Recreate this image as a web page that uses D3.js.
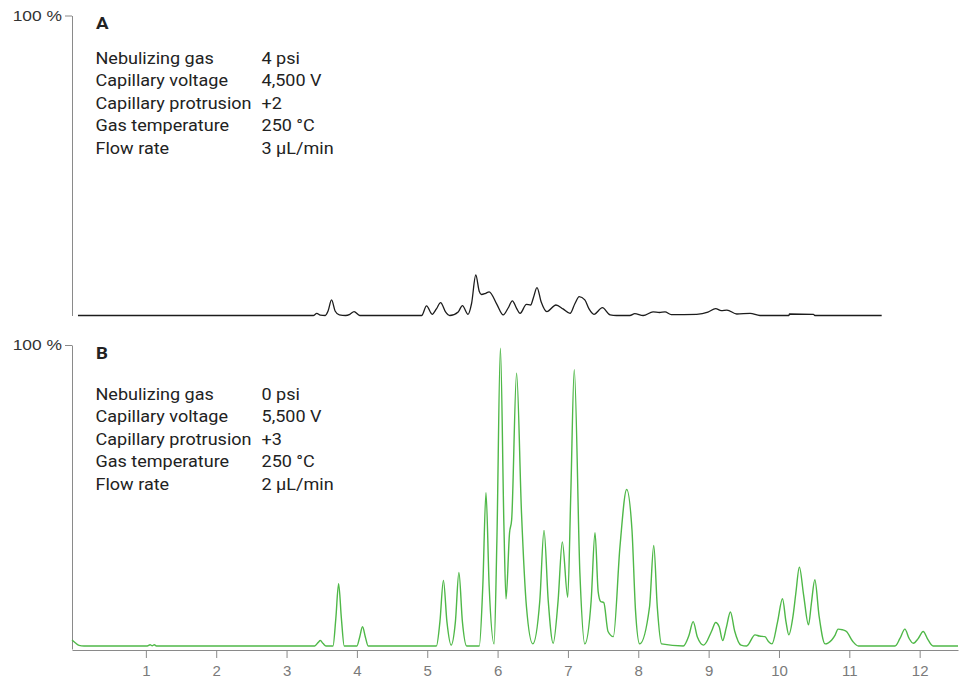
<!DOCTYPE html>
<html>
<head>
<meta charset="utf-8">
<script src="https://cdn.jsdelivr.net/npm/d3@7"></script>
<style>
  body { margin: 0; background: #fff; }
  svg { font-family: Roboto, "Noto Sans", sans-serif; }
  .axis path, .axis line { stroke: #8a8a8a; }
  .axis text { fill: #333; font-size: 14.5px; }
  .xaxis text { fill: #7a7a7a; font-size: 15px; }
  .info { fill: #222; font-size: 16.4px; }
  .title { fill: #222; font-size: 17px; font-weight: bold; }
</style>
</head>
<body>
<script>
// retention time (min) and relative intensity (%)

var traceA = [
  [0.035, 0], [3.38, 0], [3.43, 0.7], [3.48, 0.1], [3.55, 0], [3.59, 1.5], [3.64, 5.2],
  [3.69, 1.5], [3.75, 0.2], [3.84, 0], [3.90, 0.4], [3.96, 1.3], [4.04, 0], [4.92, 0],
  [4.99, 3.2], [5.07, 0.4], [5.13, 2.2], [5.19, 4.3], [5.26, 1.2], [5.32, 0], [5.44, 1.2],
  [5.50, 3.3], [5.58, 0.4], [5.63, 4], [5.69, 13.5], [5.74, 8], [5.77, 7], [5.83, 7.4],
  [5.88, 7.9], [5.99, 3.7], [6.08, 0.2], [6.15, 2.5], [6.21, 4.9], [6.27, 2.4], [6.32, 0.7],
  [6.41, 3.7], [6.47, 3.5], [6.51, 6], [6.56, 9.3], [6.62, 4.5], [6.70, 1.3], [6.83, 3.5],
  [6.93, 2.2], [7.03, 0.7], [7.10, 4], [7.16, 6.3], [7.24, 5.2], [7.30, 2.2], [7.37, 0.4],
  [7.49, 2.6], [7.60, 0.2], [7.69, 0], [7.88, 0], [7.95, 0.6], [8.07, 0], [8.21, 1.2],
  [8.30, 1.0], [8.38, 1.2], [8.47, 0.3], [8.83, 0.4], [8.99, 1.1], [9.10, 2.3], [9.18, 1.6],
  [9.26, 1.8], [9.40, 0.5], [9.59, 0.7], [9.73, 0], [10.14, 0], [10.15, 0.5], [10.49, 0.4],
  [10.51, 0], [11.46, 0]
];

var traceB = [
  [-0.05, 2.0], [0.0, 1.0], [0.05, 0.2], [0.12, 0], [1.02, 0], [1.06, 0.4], [1.09, 0.1],
  [1.12, 0.4], [1.15, 0], [3.40, 0], [3.45, 1.2], [3.48, 1.8], [3.52, 0.8], [3.56, 0],
  [3.66, 0], [3.70, 9], [3.74, 20.7], [3.78, 9], [3.82, 0],
  [4.00, 0], [4.04, 3], [4.08, 6.4], [4.12, 3], [4.16, 0],
  [5.13, 0], [5.18, 8], [5.23, 21.8], [5.28, 8], [5.34, 0.3],
  [5.40, 8], [5.45, 24.4], [5.50, 8], [5.56, 0],
  [5.74, 0], [5.79, 20], [5.835, 50.9], [5.88, 20], [5.95, 0.7],
  [5.99, 35], [6.04, 98.9], [6.09, 40], [6.12, 15.6], [6.17, 37.6], [6.20, 42], [6.27, 90.6],
  [6.34, 44.2], [6.41, 13.1], [6.50, 0.7],
  [6.60, 15], [6.66, 38.4], [6.72, 15], [6.79, 0.9],
  [6.86, 15], [6.92, 34.6], [6.997, 16.2], [7.04, 50], [7.09, 91.8], [7.17, 24.2], [7.24, 0.7],
  [7.33, 15], [7.385, 37.6], [7.43, 18], [7.465, 14.8], [7.51, 14.4], [7.57, 4.8], [7.645, 3.1],
  [7.74, 33.1], [7.835, 52], [7.91, 38.7], [7.96, 12], [8.02, 0.7],
  [8.16, 13], [8.22, 33.4], [8.27, 13], [8.33, 0.7], [8.64, 0],
  [8.72, 3.5], [8.78, 8.1], [8.84, 3], [8.93, 0.3], [9.04, 4.8], [9.10, 7.8], [9.15, 6.4],
  [9.20, 1.8], [9.25, 6], [9.31, 11.3], [9.37, 5], [9.46, 0.3], [9.54, 0], [9.66, 3.7],
  [9.72, 3.3], [9.80, 3.1], [9.85, 1.5], [9.90, 0.7], [9.98, 8], [10.05, 15.7], [10.10, 8],
  [10.14, 3.7], [10.20, 10], [10.24, 17.6], [10.29, 26.2], [10.35, 17], [10.42, 7], [10.46, 14],
  [10.51, 22], [10.57, 10], [10.655, 0.7], [10.75, 2], [10.80, 3.7], [10.84, 5.6], [10.90, 5.4],
  [10.96, 4.8], [11.05, 1.5], [11.13, 0], [11.65, 0], [11.72, 2.5], [11.79, 5.6], [11.85, 2.5],
  [11.91, 0.9], [11.98, 2.5], [12.05, 4.8], [12.12, 2], [12.19, 0], [12.545, 0]
];

var xTicks = [1, 2, 3, 4, 5, 6, 7, 8, 9, 10, 11, 12];

var labels = ["Nebulizing gas", "Capillary voltage", "Capillary protrusion", "Gas temperature", "Flow rate"];
var valuesA = ["4 psi", "4,500 V", "+2", "250 °C", "3 µL/min"];
var valuesB = ["0 psi", "5,500 V", "+3", "250 °C", "2 µL/min"];

var w = 966, h = 685;

var svg = d3.select("body").append("svg")
    .attr("width", w)
    .attr("height", h);

var x = d3.scaleLinear().domain([-0.05, 12.545]).range([72, 958]);
var yA = d3.scaleLinear().domain([0, 100]).range([315.5, 15.5]);
var yB = d3.scaleLinear().domain([-1, 100]).range([649, 345]);

// the original text is set a little wider than plain Roboto
var stretch = 1.10;

function yAxis(g, y) {
    g.attr("class", "axis")
        .attr("transform", "translate(72,0)")
        .call(d3.axisLeft(y).tickValues([100]).tickSize(7).tickSizeOuter(0)
            .tickFormat(function(d) { return d + " %"; }));
    g.selectAll(".tick text")
        .attr("x", null)
        .attr("transform", "translate(-10,0) scale(1.2,1)");
}

svg.append("g").call(yAxis, yA);
svg.append("g").call(yAxis, yB);

var xAxis = svg.append("g")
    .attr("class", "axis xaxis")
    .attr("transform", "translate(0,650)")
    .call(d3.axisBottom(x).tickValues(xTicks).tickSize(8).tickSizeOuter(0));
xAxis.selectAll("text").attr("dy", "1em");

// traces
var lineA = d3.line()
    .x(function(d) { return x(d[0]); })
    .y(function(d) { return yA(d[1]); })
    .curve(d3.curveMonotoneX);

var lineB = d3.line()
    .x(function(d) { return x(d[0]); })
    .y(function(d) { return yB(d[1]); })
    .curve(d3.curveMonotoneX);

svg.append("path")
    .datum(traceA)
    .attr("d", lineA)
    .attr("fill", "none")
    .attr("stroke", "#1c1c1c")
    .attr("stroke-width", 1.3);

svg.append("path")
    .datum(traceB)
    .attr("d", lineB)
    .attr("fill", "none")
    .attr("stroke", "#4fb848")
    .attr("stroke-width", 1.4);

// panel titles and settings
function putText(cls, px, py, s) {
    return svg.append("text").attr("class", cls)
        .attr("transform", "translate(" + px + "," + py + ") scale(" + stretch + ",1)")
        .text(s);
}

function infoBlock(title, vals, titleY, top) {
    putText("title", 96, titleY, title);
    labels.forEach(function(l, i) {
        putText("info", 95.5, top + i * 22.5, l);
        putText("info", 261.5, top + i * 22.5, vals[i]);
    });
}

infoBlock("A", valuesA, 28.5, 63.5);
infoBlock("B", valuesB, 359, 399.5);
</script>
</body>
</html>
